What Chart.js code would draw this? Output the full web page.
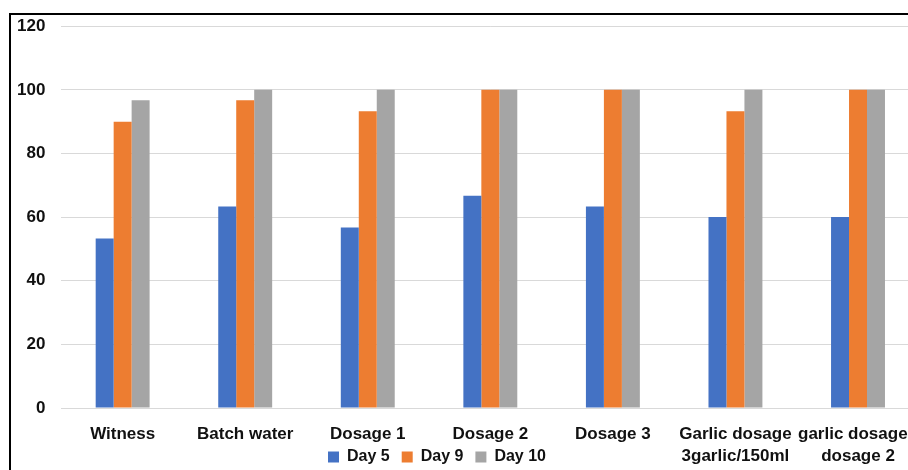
<!DOCTYPE html>
<html>
<head>
<meta charset="utf-8">
<script src="https://cdn.jsdelivr.net/npm/chart.js@4/dist/chart.umd.min.js"></script>
<style>
  html, body { margin: 0; padding: 0; background: #fff; overflow: hidden; width: 908px; height: 470px; }
  #frame {
    position: absolute; left: 9px; top: 13px;
    width: 930px; height: 470px;
    border-top: 2px solid #000; border-left: 2px solid #000;
  }
  #chart { position: absolute; left: -3px; top: 0px; }
</style>
</head>
<body>
<div id="frame"></div>
<canvas id="chart" width="936" height="471"></canvas>
<script>
// categories
const categories = [
  "Witness",
  "Batch water",
  "Dosage 1",
  "Dosage 2",
  "Dosage 3",
  ["Garlic dosage", "3garlic/150ml"],
  ["garlic dosage -", "dosage 2"],
];

// series values
const day5  = [53.3, 63.3, 56.7, 66.7, 63.3, 60, 60];
const day9  = [90, 96.7, 93.3, 100, 100, 93.3, 100];
const day10 = [96.7, 100, 100, 100, 100, 100, 100];

// y axis ticks
const yMin = 0, yMax = 120, yStep = 20;

const FONT = "'Liberation Sans', Arial, sans-serif";

// legend sits on the second label row, a bit left of centre;
// x labels may run down into the legend band
const legendShift = {
  id: "legendShift",
  afterLayout(chart) {
    const lg = chart.legend;
    if (lg) {
      const dx = 440 - (lg.left + lg.right) / 2;
      lg.left += dx;
      lg.right += dx;
      lg.top += 4;
      lg.bottom += 4;
    }
    chart.scales.x.bottom = chart.height;
  },
};

new Chart(document.getElementById("chart"), {
  type: "bar",
  data: {
    labels: categories,
    datasets: [
      { label: "Day 5",  data: day5,  backgroundColor: "#4472C4" },
      { label: "Day 9",  data: day9,  backgroundColor: "#ED7D31" },
      { label: "Day 10", data: day10, backgroundColor: "#A5A5A5" },
    ],
  },
  options: {
    responsive: false,
    animation: false,
    layout: { padding: { left: 4, top: 1, right: 0, bottom: 0 } },
    datasets: { bar: { categoryPercentage: 0.44, barPercentage: 1 } },
    plugins: {
      legend: {
        position: "bottom",
        labels: {
          boxWidth: 11, boxHeight: 11, padding: 12,
          color: "#111",
          font: { family: FONT, size: 16, weight: "bold" },
        },
      },
      tooltip: { enabled: false },
    },
    scales: {
      x: {
        grid: { display: false, drawTicks: false },
        border: { display: false },
        ticks: {
          autoSkip: false, maxRotation: 0, minRotation: 0,
          padding: 15,
          color: "#111",
          font: { family: FONT, size: 17, weight: "bold", lineHeight: 1.3 },
        },
        afterFit(scale) { scale.height = 25; },
      },
      y: {
        min: yMin, max: yMax,
        grid: { color: "#d9d9d9", lineWidth: 1, drawTicks: false },
        border: { display: false },
        ticks: {
          stepSize: yStep,
          padding: 16,
          color: "#111",
          font: { family: FONT, size: 17, weight: "bold" },
        },
      },
    },
  },
  plugins: [legendShift],
});
</script>
</body>
</html>
